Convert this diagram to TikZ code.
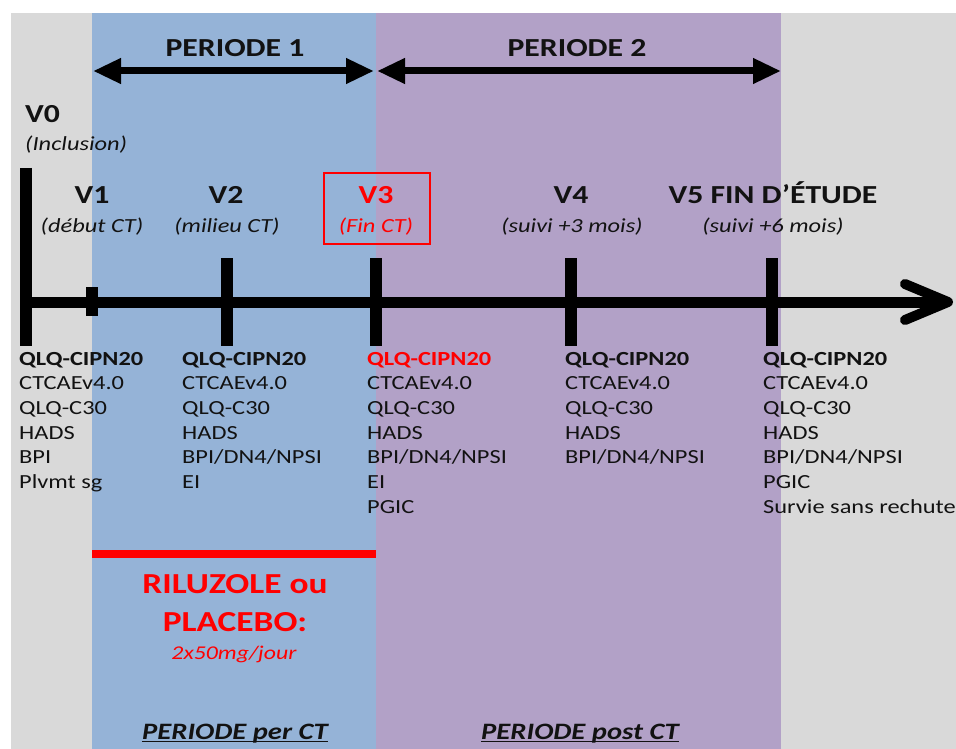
\documentclass[tikz,border=0pt]{standalone}
\usepackage{fontspec}
\setmainfont{Carlito}[FakeStretch=1.22]
\usetikzlibrary{arrows.meta}
\definecolor{bggray}{HTML}{D9D9D9}
\definecolor{bgblue}{HTML}{95B3D7}
\definecolor{bgpurple}{HTML}{B2A1C7}
\definecolor{txt}{HTML}{121212}
\definecolor{hot}{HTML}{FF0000}
\begin{document}
\begin{tikzpicture}[x=1pt,y=-1pt,
  vis/.style={font=\fontsize{26}{30}\selectfont\bfseries, inner sep=0pt, anchor=base, text=txt},
  sub/.style={font=\fontsize{20}{24}\selectfont\itshape, inner sep=0pt, anchor=base, text=txt},
  item/.style={font=\fontsize{20}{24}\selectfont, inner sep=0pt, anchor=base west, text=txt},
  itemb/.style={item, font=\fontsize{20}{24}\selectfont\bfseries},
  tickmark/.style={line width=12pt},
  periodarrow/.style={line width=7pt, {Triangle[length=28pt,width=24pt]}-{Triangle[length=28pt,width=24pt]}},
  perlabel/.style={font=\fontsize{26}{30}\selectfont\bfseries, inner sep=0pt, anchor=base, text=txt},
  botlabel/.style={font=\fontsize{23.5}{27}\selectfont\bfseries\itshape, inner sep=0pt, anchor=base, text=txt}
]
\useasboundingbox (0,0) rectangle (956,749);
% backgrounds
\fill[bggray] (11,13) rectangle (956,749);
\fill[bgblue] (92,13) rectangle (376,749);
\fill[bgpurple] (376,13) rectangle (781,749);

% period arrows
\node[perlabel] (per1) at (235,57) {PERIODE 1};
\node[perlabel] (per2) at (577,57) {PERIODE 2};
\coordinate (p1a) at (93,71);
\coordinate (p1b) at (374,71);
\coordinate (p2a) at (377,71);
\coordinate (p2b) at (781,71);
\draw[periodarrow] (p1a) -- (p1b);
\draw[periodarrow] (p2a) -- (p2b);

% main axis
\coordinate (ax0) at (20,302);
\coordinate (ax1) at (946,302);
\draw[line width=11pt] (ax0) -- (ax1);
\draw[line width=10pt, line cap=round, line join=round] (905,284) -- (948,302) -- (905,320);

% ticks
\coordinate (t0a) at (26,168); \coordinate (t0b) at (26,346);
\coordinate (t1a) at (92,287); \coordinate (t1b) at (92,316);
\coordinate (t2a) at (227,258); \coordinate (t2b) at (227,346);
\coordinate (t3a) at (376,258); \coordinate (t3b) at (376,346);
\coordinate (t4a) at (571,258); \coordinate (t4b) at (571,346);
\coordinate (t5a) at (772,258); \coordinate (t5b) at (772,346);
\draw[tickmark] (t0a) -- (t0b);
\draw[tickmark] (t1a) -- (t1b);
\draw[tickmark] (t2a) -- (t2b);
\draw[tickmark] (t3a) -- (t3b);
\draw[tickmark] (t4a) -- (t4b);
\draw[tickmark] (t5a) -- (t5b);

% visit labels
\node[vis, anchor=base west] (v0) at (25,123) {V0};
\node[sub, anchor=base west] (v0s) at (25,151) {(Inclusion)};
\node[vis] (v1) at (92,204) {V1};
\node[sub] (v1s) at (92,232) {(début CT)};
\node[vis] (v2) at (226,204) {V2};
\node[sub] (v2s) at (227,232) {(milieu CT)};
\node[vis, text=hot] (v3) at (376,204) {V3};
\node[sub, text=hot] (v3s) at (376,232) {(Fin CT)};
\node[draw=hot, line width=1.3pt, minimum width=106pt, minimum height=71pt, inner sep=0pt] (v3box) at (377,208.5) {};
\node[vis] (v4) at (571,204) {V4};
\node[sub] (v4s) at (572,232) {(suivi +3 mois)};
\node[vis] (v5) at (773,204) {V5 FIN D’ÉTUDE};
\node[sub] (v5s) at (773,232) {(suivi +6 mois)};

% lists
\node[itemb] (a0) at (19,365) {QLQ-CIPN20};
\foreach \t [count=\i] in {CTCAEv4.0, QLQ-C30, HADS, BPI, Plvmt sg}
  \node[item] (a\i) at (19,365+24.7*\i) {\t};
\node[itemb] (b0) at (182,365) {QLQ-CIPN20};
\foreach \t [count=\i] in {CTCAEv4.0, QLQ-C30, HADS, BPI/DN4/NPSI, EI}
  \node[item] (b\i) at (182,365+24.7*\i) {\t};
\node[itemb, text=hot] (c0) at (367,365) {QLQ-CIPN20};
\foreach \t [count=\i] in {CTCAEv4.0, QLQ-C30, HADS, BPI/DN4/NPSI, EI, PGIC}
  \node[item] (c\i) at (367,365+24.7*\i) {\t};
\node[itemb] (d0) at (565,365) {QLQ-CIPN20};
\foreach \t [count=\i] in {CTCAEv4.0, QLQ-C30, HADS, BPI/DN4/NPSI}
  \node[item] (d\i) at (565,365+24.7*\i) {\t};
\node[itemb] (e0) at (763,365) {QLQ-CIPN20};
\foreach \t [count=\i] in {CTCAEv4.0, QLQ-C30, HADS, BPI/DN4/NPSI, PGIC, Survie sans rechute}
  \node[item] (e\i) at (763,365+24.7*\i) {\t};

% treatment
\coordinate (rl0) at (92,554);
\coordinate (rl1) at (376,554);
\draw[hot, line width=7.5pt] (rl0) -- (rl1);
\node[font=\fontsize{29}{34}\selectfont\bfseries, text=hot, inner sep=0pt, anchor=base] (ril) at (235,593) {RILUZOLE ou};
\node[font=\fontsize{29}{34}\selectfont\bfseries, text=hot, inner sep=0pt, anchor=base] (pla) at (235,631) {PLACEBO:};
\node[font=\fontsize{19.5}{23}\selectfont\itshape, text=hot, inner sep=0pt, anchor=base] (dose) at (234,659) {2x50mg/jour};

% bottom labels
\node[botlabel] (pper) at (235,739) {PERIODE per CT};
\node[botlabel] (ppost) at (580,739) {PERIODE post CT};
\draw[txt, line width=1.3pt] ([yshift=-2.5pt]pper.base west) -- ([yshift=-2.5pt]pper.base east);
\draw[txt, line width=1.3pt] ([yshift=-2.5pt]ppost.base west) -- ([yshift=-2.5pt]ppost.base east);
\end{tikzpicture}
\end{document}
